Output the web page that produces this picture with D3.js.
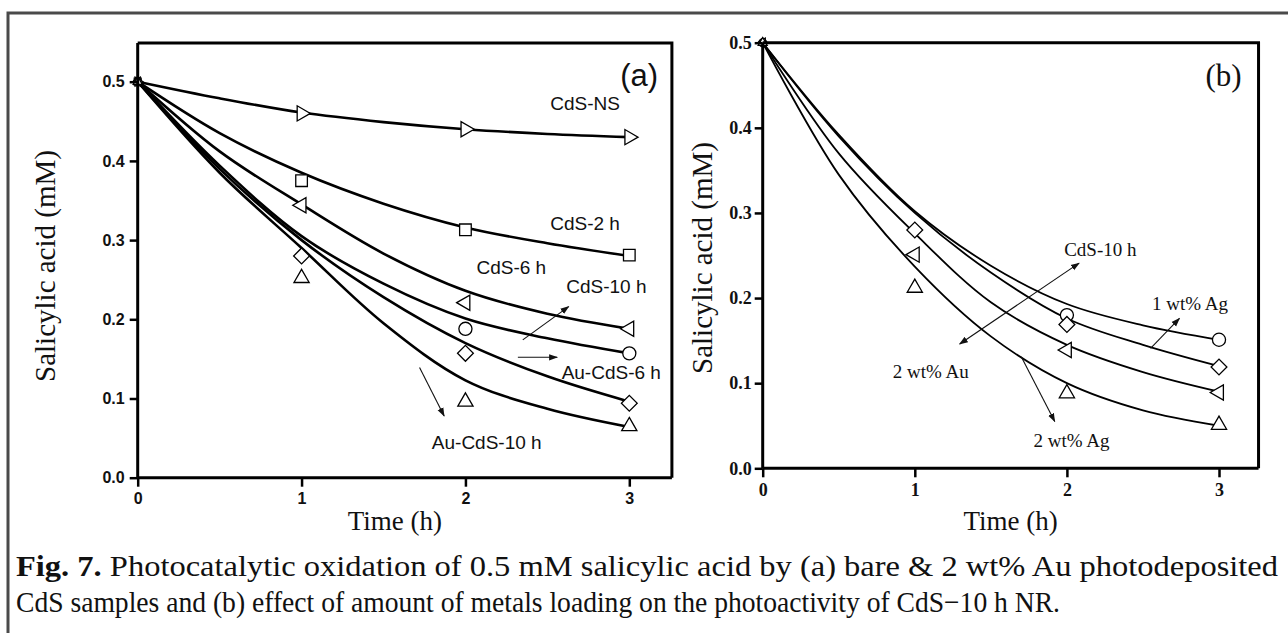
<!DOCTYPE html>
<html>
<head>
<meta charset="utf-8">
<script src="https://cdn.jsdelivr.net/npm/d3@7"></script>
<style>
  html, body { margin: 0; padding: 0; background: #fff; }
  svg { display: block; }
  .serif { font-family: 'Liberation Serif', 'Times New Roman', Times, serif; }
  .sans { font-family: 'Liberation Sans', Arial, Helvetica, sans-serif; }
</style>
</head>
<body>
<div id="chart"></div>
<script>
// ---- data ----
const times = [0, 1, 2, 3];
const fitTimes = [0, 0.5, 1, 1.5, 2, 2.5, 3];
const yTicks = [0, 0.1, 0.2, 0.3, 0.4, 0.5];
const xTicks = [0, 1, 2, 3];

// panel (a)
const seriesA = ['CdS-NS', 'CdS-2 h', 'CdS-6 h', 'CdS-10 h', 'Au-CdS-6 h', 'Au-CdS-10 h'];
const symbolsA = ['triRight', 'square', 'triLeft', 'circle', 'diamond', 'triUp'];
const pointsA = [
  [0.5, 0.46, 0.44, 0.43],
  [0.5, 0.375, 0.313, 0.281],
  [0.5, 0.344, 0.221, 0.188],
  [0.5, null, 0.188, 0.157],
  [0.5, 0.28, 0.157, 0.094],
  [0.5, 0.252, 0.096, 0.065]
];
const fitsA = [
  [0.5, 0.479, 0.461, 0.449, 0.44, 0.434, 0.43],
  [0.5, 0.435, 0.385, 0.346, 0.316, 0.296, 0.28],
  [0.5, 0.412, 0.345, 0.283, 0.236, 0.207, 0.188],
  [0.5, 0.394, 0.305, 0.245, 0.201, 0.176, 0.157],
  [0.5, 0.39, 0.3, 0.228, 0.17, 0.128, 0.096],
  [0.5, 0.385, 0.29, 0.195, 0.123, 0.087, 0.064]
];
const labelsA = [
  { text: 'CdS-NS', x: 2.73, y: 0.473 },
  { text: 'CdS-2 h', x: 2.73, y: 0.321 },
  { text: 'CdS-6 h', x: 2.28, y: 0.266 },
  { text: 'CdS-10 h', x: 2.86, y: 0.241 },
  { text: 'Au-CdS-6 h', x: 2.89, y: 0.133 },
  { text: 'Au-CdS-10 h', x: 2.13, y: 0.044 }
];
const arrowsA = [
  { x1: 2.35, y1: 0.174, x2: 2.63, y2: 0.216, both: false },
  { x1: 2.32, y1: 0.152, x2: 2.56, y2: 0.152, both: false },
  { x1: 1.72, y1: 0.139, x2: 1.87, y2: 0.078, both: false }
];

// panel (b)
const seriesB = ['1 wt% Ag', 'CdS-10 h', '2 wt% Au', '2 wt% Ag'];
const symbolsB = ['circle', 'diamond', 'triLeft', 'triUp'];
const pointsB = [
  [0.5, null, 0.18, 0.151],
  [0.5, 0.28, 0.169, 0.119],
  [0.5, 0.251, 0.139, 0.089],
  [0.5, 0.212, 0.088, 0.051]
];
const fitsB = [
  [0.5, 0.392, 0.302, 0.238, 0.193, 0.168, 0.151],
  [0.5, 0.39, 0.3, 0.23, 0.176, 0.145, 0.12],
  [0.5, 0.37, 0.276, 0.195, 0.145, 0.113, 0.09],
  [0.5, 0.345, 0.237, 0.155, 0.1, 0.068, 0.05]
];
const labelsB = [
  { text: 'CdS-10 h', x: 2.22, y: 0.257 },
  { text: '2 wt% Au', x: 1.105, y: 0.1135 },
  { text: '1 wt% Ag', x: 2.81, y: 0.194 },
  { text: '2 wt% Ag', x: 2.03, y: 0.033 }
];
const arrowsB = [
  { x1: 1.295, y1: 0.146, x2: 2.08, y2: 0.241, both: true },
  { x1: 2.55, y1: 0.141, x2: 2.74, y2: 0.176, both: false },
  { x1: 1.70, y1: 0.131, x2: 1.92, y2: 0.055, both: false }
];

const captionBold = 'Fig. 7.';
const caption1 = ' Photocatalytic oxidation of 0.5 mM salicylic acid by (a) bare & 2 wt% Au photodeposited';
const caption2 = 'CdS samples and (b) effect of amount of metals loading on the photoactivity of CdS\u221210 h NR.';

// ---- drawing ----
const width = 1288, height = 633;

const svg = d3.select('#chart').append('svg')
  .attr('width', width).attr('height', height);
svg.append('rect').attr('width', width).attr('height', height).attr('fill', '#fff');

// outer frame (only top and left edges fall inside the picture)
svg.append('path')
  .attr('d', `M8,${height} L8,13 L${width},13`)
  .attr('fill', 'none').attr('stroke', '#4a4a4a').attr('stroke-width', 3);

const defs = svg.append('defs');
defs.append('marker')
  .attr('id', 'arrow').attr('viewBox', '0 0 10 10')
  .attr('refX', 9).attr('refY', 5)
  .attr('markerWidth', 9).attr('markerHeight', 9)
  .attr('markerUnits', 'userSpaceOnUse')
  .attr('orient', 'auto-start-reverse')
  .append('path').attr('d', 'M0,1.5 L10,5 L0,8.5 Z').attr('fill', '#111');

function symbolPath(kind, scale) {
  if (kind === 'circle') return d3.symbol(d3.symbolCircle, 135 * scale)();
  if (kind === 'square') return d3.symbol(d3.symbolSquare, 135 * scale)();
  if (kind === 'diamond') return d3.symbol(d3.symbolSquare, 125 * scale)();
  return d3.symbol(d3.symbolTriangle, 100 * scale)();
}
function symbolRotate(kind) {
  if (kind === 'triRight') return 90;
  if (kind === 'triLeft') return -90;
  if (kind === 'diamond') return 45;
  return 0;
}

function drawPanel(cfg) {
  const x = d3.scaleLinear().domain([0, 3]).range([cfg.left, cfg.x3]);
  const y = d3.scaleLinear().domain([0, 0.5]).range([cfg.bottom, cfg.y05]);
  const right = x(cfg.xMax);
  const top = y(cfg.yMax);
  const g = svg.append('g');

  // fitted curves
  const line = d3.line()
    .x((d, i) => x(fitTimes[i]))
    .y(d => y(d))
    .curve(d3.curveCatmullRom.alpha(0.5));
  g.selectAll('path.fit').data(cfg.fits).enter().append('path')
    .attr('class', 'fit')
    .attr('d', line)
    .attr('fill', 'none').attr('stroke', '#000')
    .attr('stroke-width', cfg.lineWidth);

  // measured points (the common start point is drawn small, as in the figure)
  cfg.points.forEach((vals, si) => {
    const kind = cfg.symbols[si];
    g.selectAll(null).data(vals.map((v, i) => ({ t: times[i], v })).filter(d => d.v !== null))
      .enter().append('path')
      .attr('d', d => symbolPath(kind, d.t === 0 ? 0.35 : 1))
      .attr('transform', d => `translate(${x(d.t)},${y(d.v)}) rotate(${symbolRotate(kind)})`)
      .attr('fill', '#fff').attr('stroke', '#000').attr('stroke-width', 1.3);
  });

  // frame
  g.append('path')
    .attr('d', `M${x(0)},${top} H${right} V${y(0)}`)
    .attr('fill', 'none').attr('stroke', '#000').attr('stroke-width', 3);

  // axes
  const xAxis = d3.axisBottom(x).tickValues(xTicks).tickFormat(d3.format('d'))
    .tickSizeOuter(0).tickSizeInner(9).tickPadding(cfg.xPad);
  const gx = g.append('g').attr('transform', `translate(0,${y(0)})`).call(xAxis);
  gx.select('.domain').attr('d', `M${x(0)},0 H${right}`).attr('stroke-width', 3);
  const yAxis = d3.axisLeft(y).tickValues(yTicks).tickFormat(d3.format('.1f'))
    .tickSizeOuter(0).tickSizeInner(8).tickPadding(cfg.yPad);
  const gy = g.append('g').attr('transform', `translate(${x(0)},0)`).call(yAxis);
  gy.select('.domain').attr('d', `M0,${y(0)} V${top}`).attr('stroke-width', 3);
  [gx, gy].forEach(ax => {
    ax.attr('font-family', null).attr('font-size', null);
    ax.selectAll('.tick line').attr('stroke-width', 2.5);
    ax.selectAll('.tick text')
      .attr('class', cfg.tickFont)
      .style('font-weight', 'bold')
      .style('font-size', cfg.tickSize + 'px').attr('fill', '#111');
  });

  // axis titles
  g.append('text').attr('class', 'serif')
    .attr('x', (x(0) + right) / 2 + cfg.xTitleDx).attr('y', cfg.xTitleY)
    .attr('text-anchor', 'middle')
    .style('font-size', '27px').attr('fill', '#111')
    .text('Time (h)');
  g.append('text').attr('class', 'serif')
    .attr('transform', `translate(${cfg.yTitleX},${cfg.yTitleCy}) rotate(-90)`)
    .attr('text-anchor', 'middle')
    .style('font-size', cfg.yTitleSize + 'px').attr('fill', '#111')
    .text('Salicylic acid (mM)');

  // panel tag
  g.append('text').attr('class', cfg.tag.font)
    .attr('x', x(cfg.tag.x)).attr('y', y(cfg.tag.y))
    .attr('text-anchor', 'middle').attr('dominant-baseline', 'central')
    .style('font-size', cfg.tag.size + 'px').attr('fill', '#111')
    .text(cfg.tag.text);

  // annotations
  g.selectAll('text.lab').data(cfg.labels).enter().append('text')
    .attr('class', 'lab ' + cfg.labelFont)
    .attr('x', d => x(d.x)).attr('y', d => y(d.y))
    .attr('text-anchor', 'middle').attr('dominant-baseline', 'central')
    .style('font-size', cfg.labelSize + 'px').attr('fill', '#111')
    .text(d => d.text);
  g.selectAll('line.arr').data(cfg.arrows).enter().append('line')
    .attr('class', 'arr')
    .attr('x1', d => x(d.x1)).attr('y1', d => y(d.y1))
    .attr('x2', d => x(d.x2)).attr('y2', d => y(d.y2))
    .attr('stroke', '#111').attr('stroke-width', 1.1)
    .attr('marker-end', 'url(#arrow)')
    .attr('marker-start', d => d.both ? 'url(#arrow)' : null);
}

drawPanel({
  left: 137.7, x3: 629.3, bottom: 477.7, y05: 81.7, xMax: 3.26, yMax: 0.549,
  fits: fitsA, points: pointsA, symbols: symbolsA,
  labels: labelsA, arrows: arrowsA, lineWidth: 2.6,
  tickFont: 'sans', tickSize: 16, xPad: 6, yPad: 5,
  labelFont: 'sans', labelSize: 19,
  xTitleDx: -10, xTitleY: 530, yTitleX: 55, yTitleCy: 266, yTitleSize: 29,
  tag: { text: '(a)', x: 3.06, y: 0.508, font: 'sans', size: 31 }
});

drawPanel({
  left: 762.7, x3: 1219, bottom: 468.3, y05: 42.7, xMax: 3.26, yMax: 0.5,
  fits: fitsB, points: pointsB, symbols: symbolsB,
  labels: labelsB, arrows: arrowsB, lineWidth: 1.8,
  tickFont: 'serif', tickSize: 18, xPad: 6, yPad: 3,
  labelFont: 'serif', labelSize: 19,
  xTitleDx: 0, xTitleY: 530, yTitleX: 712, yTitleCy: 258, yTitleSize: 29,
  tag: { text: '(b)', x: 3.03, y: 0.462, font: 'serif', size: 31 }
});

// caption
const cap = svg.append('g').attr('class', 'serif').style('font-size', '30px').attr('fill', '#111');
const t1 = cap.append('text').attr('x', 16).attr('y', 576)
  .attr('textLength', 1262).attr('lengthAdjust', 'spacingAndGlyphs');
t1.append('tspan').style('font-weight', 'bold').text(captionBold);
t1.append('tspan').text(caption1);
cap.append('text').attr('x', 16).attr('y', 612)
  .attr('textLength', 1044).attr('lengthAdjust', 'spacingAndGlyphs')
  .text(caption2);
</script>
</body>
</html>
